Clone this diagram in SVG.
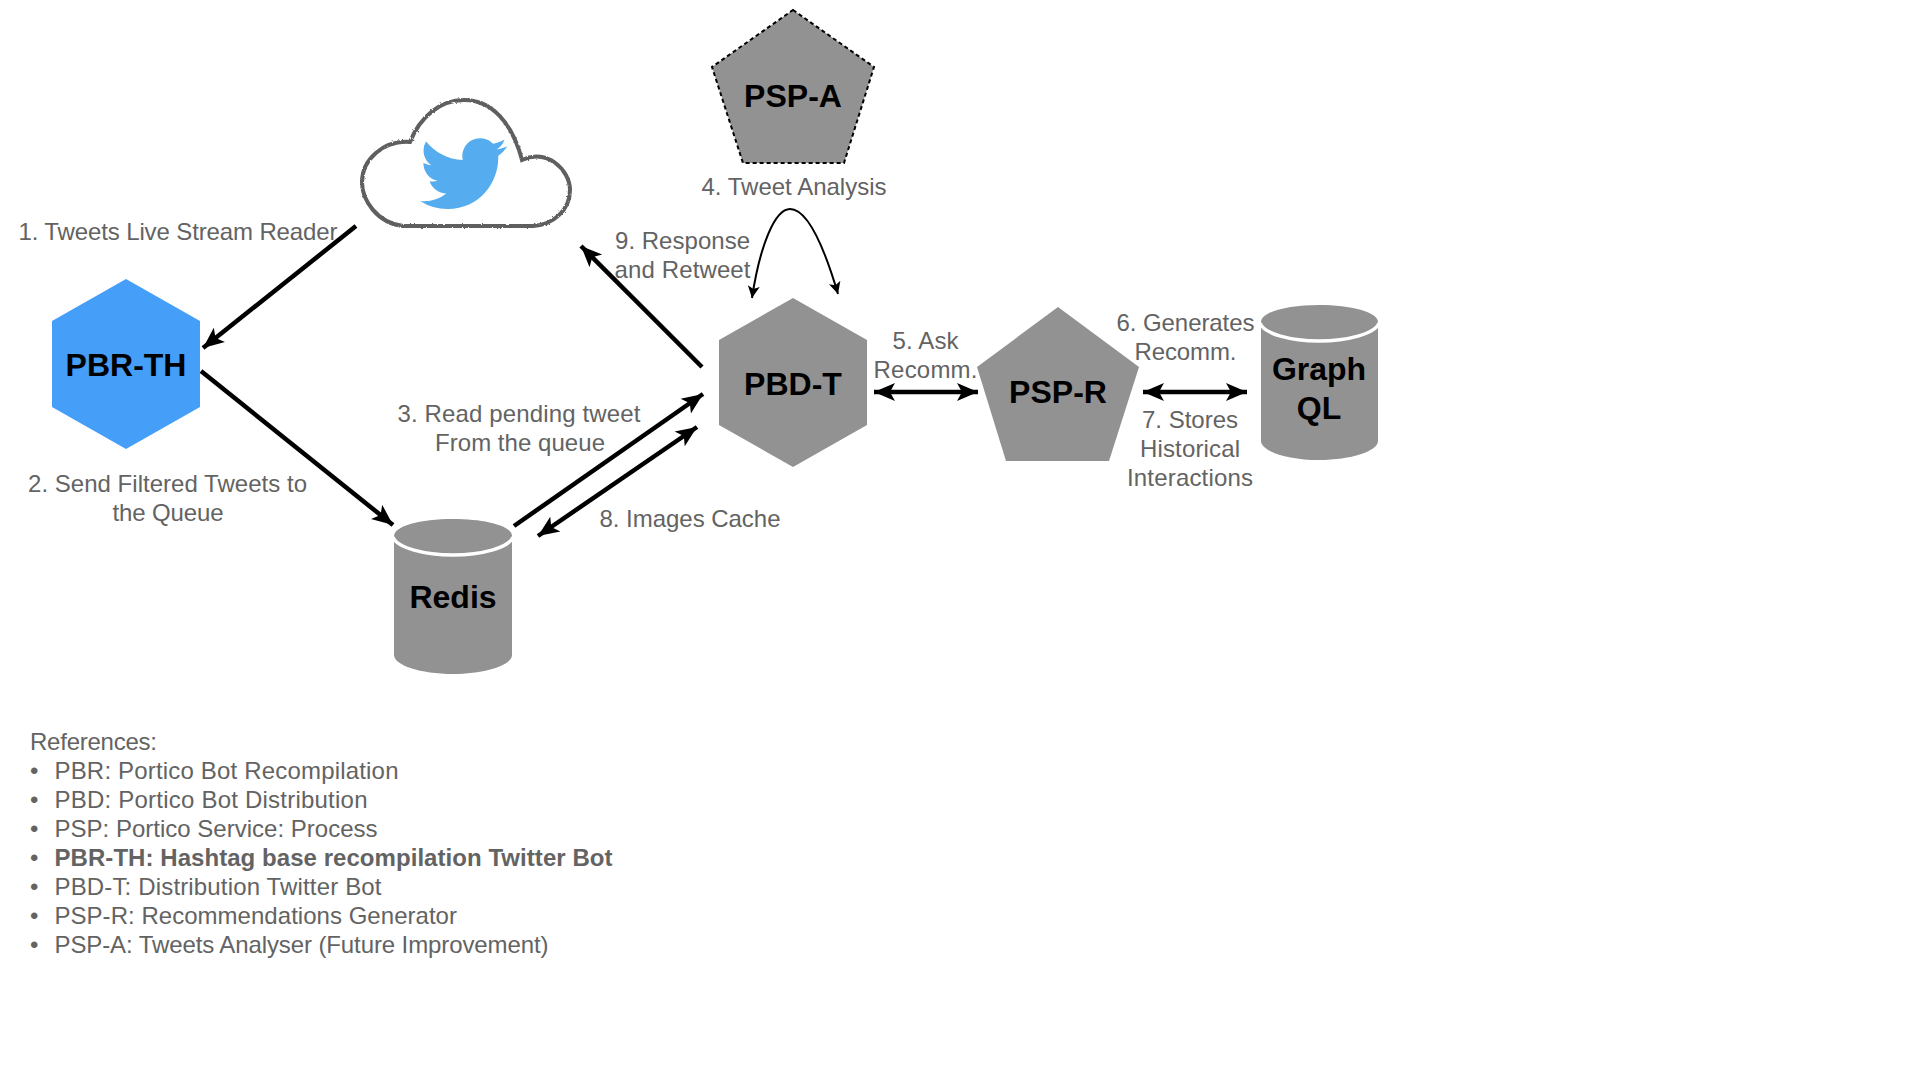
<svg xmlns="http://www.w3.org/2000/svg" width="1920" height="1080" viewBox="0 0 1920 1080">
<style>
text{font-family:"Liberation Sans",Arial,sans-serif}
.n{font-size:32px;font-weight:700;fill:#000;text-anchor:middle}
.l{font-size:24px;fill:#636363;text-anchor:middle}
.r{font-size:24px;fill:#636363}
.shape{fill:#929292}
.lid{fill:none;stroke:#fff;stroke-width:3.5}
.c{fill:none;stroke:#000;stroke-width:4.5}
</style>
<defs>
<marker id="a" markerUnits="userSpaceOnUse" markerWidth="24" markerHeight="20" refX="21" refY="10" orient="auto-start-reverse"><path d="M0 1L21 10L0 19L5 10z" fill="#000"/></marker>
<marker id="s" markerUnits="userSpaceOnUse" markerWidth="14" markerHeight="12" refX="12" refY="6" orient="auto"><path d="M0 0L12 6L0 12L3 6z" fill="#000"/></marker>
<filter id="rough" x="-5%" y="-5%" width="110%" height="110%"><feTurbulence type="fractalNoise" baseFrequency="0.5" numOctaves="2" seed="3"/><feDisplacementMap in="SourceGraphic" scale="2.5"/></filter>
</defs>
<rect width="1920" height="1080" fill="#fff"/>
<g id="connectors">
<path class="c" d="M356 226L203 348" marker-end="url(#a)"/>
<path class="c" d="M201 371L393 525" marker-end="url(#a)"/>
<path class="c" d="M514 526L703 394" marker-end="url(#a)"/>
<path class="c" d="M697 427L538 536" marker-start="url(#a)" marker-end="url(#a)"/>
<path class="c" d="M702 367L581 246" marker-end="url(#a)"/>
<path class="c" d="M874 392L978 392" marker-start="url(#a)" marker-end="url(#a)"/>
<path class="c" d="M1143 392L1247 392" marker-start="url(#a)" marker-end="url(#a)"/>
<path d="M790 209C808 209 825 250 838 294" fill="none" stroke="#000" stroke-width="2" marker-end="url(#s)"/>
<path d="M790 209C775 209 760 245 752 298" fill="none" stroke="#000" stroke-width="2" marker-end="url(#s)"/>
</g>
<g id="twitter">
<path d="M464 100C500 100 516 137 522 160C547 148 570 170 570 190C570 210 553 225 533 226L403 226C377 223 362 200 362 182C362 160 383 140 410 142C420 117 440 100 464 100Z" fill="none" stroke="#5e5e5e" stroke-width="4" filter="url(#rough)"/>
<path transform="translate(420 130) scale(3.63)" d="M23.953 4.57a10 10 0 01-2.825.775 4.958 4.958 0 002.163-2.723c-.951.555-2.005.959-3.127 1.184a4.92 4.92 0 00-8.384 4.482C7.69 8.095 4.067 6.13 1.64 3.162a4.822 4.822 0 00-.666 2.475c0 1.71.87 3.213 2.188 4.096a4.904 4.904 0 01-2.228-.616v.06a4.923 4.923 0 003.946 4.827 4.996 4.996 0 01-2.212.085 4.936 4.936 0 004.604 3.417 9.867 9.867 0 01-6.102 2.105c-.39 0-.779-.023-1.17-.067a13.995 13.995 0 007.557 2.209c9.053 0 13.998-7.496 13.998-13.985 0-.21 0-.42-.015-.63A9.935 9.935 0 0024 4.59z" fill="#55acee"/>
</g>
<g id="pbr-th"><path d="M126 279L200 321V407L126 449L52 407V321z" fill="#459ef8"/><text class="n" x="126" y="376">PBR-TH</text></g>
<g id="pbd-t"><path class="shape" d="M793 298L867 340V425L793 467L719 425V340z"/><text class="n" x="793" y="395">PBD-T</text></g>
<g id="psp-a"><path class="shape" d="M793 10L874 67L844 163H743L712 67z" stroke="#000" stroke-width="2" stroke-dasharray="4 3"/><text class="n" x="793" y="107">PSP-A</text></g>
<g id="psp-r"><path class="shape" d="M1058 307L1139 367L1109 461H1006L977 367z"/><text class="n" x="1058" y="403">PSP-R</text></g>
<g id="redis"><path class="shape" d="M394 536V655C394 665 420 674 453 674C486 674 512 665 512 655V536C512 526 486 519 453 519C420 519 394 526 394 536Z"/><path class="lid" d="M393 537C397 548 425 555 453 555C481 555 509 548 513 537"/><text class="n" x="453" y="608">Redis</text></g>
<g id="graphql"><path class="shape" d="M1261 322V441C1261 451 1287 460 1319 460C1351 460 1378 451 1378 441V322C1378 312 1351 305 1319 305C1287 305 1261 312 1261 322Z"/><path class="lid" d="M1260 323C1264 334 1291 341 1319 341C1347 341 1375 334 1379 323"/><text class="n"><tspan x="1319" y="380">Graph</tspan><tspan x="1319" y="419">QL</tspan></text></g>
<g id="labels">
<text class="l" x="178" y="240" textLength="319">1. Tweets Live Stream Reader</text>
<text class="l" x="167.500" y="492" textLength="279">2. Send Filtered Tweets to</text><text class="l" x="168" y="521" textLength="111">the Queue</text>
<text class="l" x="519" y="421.500" textLength="243">3. Read pending tweet</text><text class="l" x="520" y="451" textLength="170">From the queue</text>
<text class="l" x="794" y="195" textLength="185">4. Tweet Analysis</text>
<text class="l" x="925.500" y="348.500" textLength="66">5. Ask</text><text class="l" x="925.500" y="378" textLength="104">Recomm.</text>
<text class="l" x="1185.500" y="331" textLength="138">6. Generates</text><text class="l" x="1185.500" y="360" textLength="102">Recomm.</text>
<text class="l" x="1190" y="427.500" textLength="96">7. Stores</text><text class="l" x="1190" y="456.500" textLength="100">Historical</text><text class="l" x="1190" y="485.500" textLength="126">Interactions</text>
<text class="l" x="690" y="527" textLength="181">8. Images Cache</text>
<text class="l" x="682.500" y="248.500" textLength="135">9. Response</text><text class="l" x="682.500" y="277.500" textLength="136">and Retweet</text>
</g>
<g id="references">
<text class="r" x="30" y="750" textLength="127">References:</text>
<text class="r" x="30" y="779">•</text><text class="r" x="54.500" y="779" textLength="344">PBR: Portico Bot Recompilation</text>
<text class="r" x="30" y="808">•</text><text class="r" x="54.500" y="808" textLength="313">PBD: Portico Bot Distribution</text>
<text class="r" x="30" y="837">•</text><text class="r" x="54.500" y="837" textLength="323">PSP: Portico Service: Process</text>
<text class="r" x="30" y="866">•</text><text class="r" x="54.500" y="866" font-weight="700" textLength="558">PBR-TH: Hashtag base recompilation Twitter Bot</text>
<text class="r" x="30" y="895">•</text><text class="r" x="54.500" y="895" textLength="327">PBD-T: Distribution Twitter Bot</text>
<text class="r" x="30" y="924">•</text><text class="r" x="54.500" y="924" textLength="402.500">PSP-R: Recommendations Generator</text>
<text class="r" x="30" y="953">•</text><text class="r" x="54.500" y="953" textLength="494">PSP-A: Tweets Analyser (Future Improvement)</text>
</g>
</svg>
